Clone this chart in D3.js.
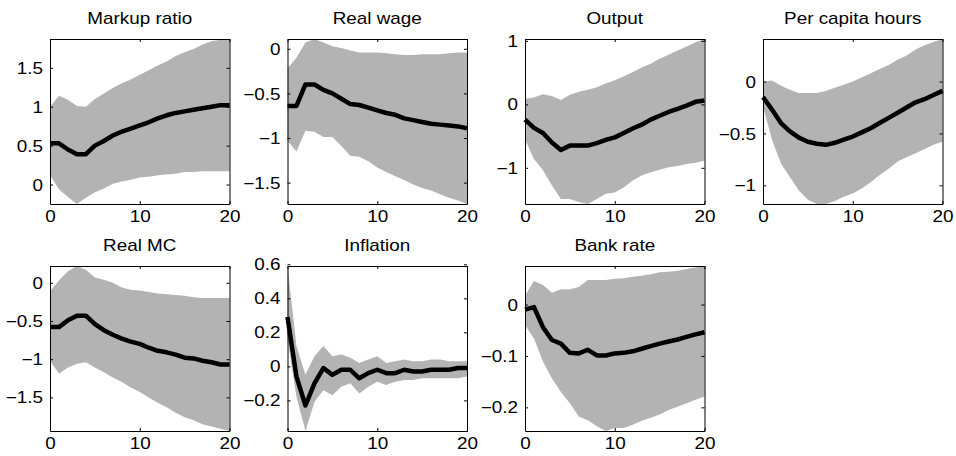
<!DOCTYPE html>
<html>
<head>
<meta charset="utf-8">
<script src="https://cdn.jsdelivr.net/npm/d3@7"></script>
<style>
  html, body { margin: 0; padding: 0; background: #fff; }
  svg { display: block; }
</style>
</head>
<body>
<div id="chart"></div>
<script>
// ── Data: impulse responses, median with error band, horizon 0..20 ──
const HORIZON = d3.range(0, 21);
const X_TICKS = [0, 10, 20];

const MARKUP_MEAN = [0.53, 0.53, 0.45, 0.39, 0.39, 0.50, 0.56, 0.63, 0.68, 0.72, 0.76, 0.80, 0.85, 0.89, 0.92, 0.94, 0.96, 0.98, 1.00, 1.02, 1.02];
const MARKUP_HI   = [1.00, 1.14, 1.09, 1.01, 1.00, 1.10, 1.17, 1.24, 1.30, 1.35, 1.41, 1.47, 1.53, 1.58, 1.65, 1.70, 1.74, 1.80, 1.84, 1.86, 1.87];
const MARKUP_LO   = [0.12, -0.06, -0.16, -0.25, -0.17, -0.10, -0.05, 0.01, 0.04, 0.06, 0.09, 0.10, 0.12, 0.13, 0.14, 0.16, 0.16, 0.17, 0.17, 0.17, 0.17];
const MARKUP_TICKS = [0, 0.5, 1, 1.5];

const WAGE_MEAN = [-0.64, -0.64, -0.40, -0.40, -0.46, -0.50, -0.56, -0.62, -0.63, -0.66, -0.69, -0.72, -0.74, -0.78, -0.80, -0.82, -0.84, -0.85, -0.86, -0.87, -0.89];
const WAGE_HI   = [-0.22, -0.10, 0.07, 0.11, 0.07, 0.03, 0.01, -0.02, -0.04, -0.04, -0.04, -0.05, -0.06, -0.07, -0.07, -0.06, -0.06, -0.06, -0.05, -0.04, -0.04];
const WAGE_LO   = [-1.03, -1.15, -0.92, -0.93, -0.99, -0.99, -1.09, -1.20, -1.21, -1.26, -1.33, -1.38, -1.43, -1.47, -1.52, -1.56, -1.59, -1.63, -1.67, -1.70, -1.74];
const WAGE_TICKS = [-1.5, -1, -0.5, 0];

const OUTPUT_MEAN = [-0.24, -0.37, -0.45, -0.60, -0.72, -0.65, -0.65, -0.65, -0.61, -0.56, -0.52, -0.45, -0.38, -0.32, -0.24, -0.18, -0.12, -0.07, -0.02, 0.04, 0.06];
const OUTPUT_HI   = [0.09, 0.11, 0.16, 0.13, 0.07, 0.15, 0.20, 0.23, 0.27, 0.33, 0.38, 0.44, 0.51, 0.58, 0.64, 0.72, 0.78, 0.85, 0.91, 0.98, 1.03];
const OUTPUT_LO   = [-0.55, -0.86, -1.04, -1.28, -1.49, -1.49, -1.54, -1.57, -1.49, -1.41, -1.39, -1.31, -1.20, -1.12, -1.07, -1.03, -0.99, -0.97, -0.94, -0.92, -0.89];
const OUTPUT_TICKS = [-1, 0, 1];

const HOURS_MEAN = [-0.15, -0.27, -0.40, -0.48, -0.54, -0.58, -0.60, -0.61, -0.59, -0.56, -0.53, -0.49, -0.45, -0.40, -0.35, -0.30, -0.25, -0.20, -0.17, -0.13, -0.09];
const HOURS_HI   = [0.00, 0.01, -0.04, -0.08, -0.11, -0.11, -0.11, -0.09, -0.06, -0.03, 0.00, 0.04, 0.08, 0.12, 0.16, 0.21, 0.25, 0.31, 0.35, 0.38, 0.41];
const HOURS_LO   = [-0.24, -0.56, -0.79, -0.92, -1.05, -1.14, -1.18, -1.18, -1.15, -1.11, -1.08, -1.03, -0.97, -0.90, -0.84, -0.77, -0.73, -0.69, -0.65, -0.61, -0.58];
const HOURS_TICKS = [-1, -0.5, 0];

const MC_MEAN = [-0.58, -0.58, -0.49, -0.43, -0.43, -0.54, -0.62, -0.68, -0.73, -0.77, -0.80, -0.85, -0.89, -0.91, -0.94, -0.98, -0.99, -1.02, -1.04, -1.07, -1.07];
const MC_HI   = [-0.11, 0.03, 0.15, 0.22, 0.17, 0.07, 0.04, 0.00, -0.06, -0.09, -0.10, -0.12, -0.14, -0.15, -0.16, -0.17, -0.19, -0.20, -0.20, -0.20, -0.20];
const MC_LO   = [-1.02, -1.19, -1.11, -1.06, -1.04, -1.11, -1.17, -1.24, -1.30, -1.37, -1.43, -1.50, -1.57, -1.63, -1.70, -1.76, -1.80, -1.85, -1.88, -1.91, -1.94];
const MC_TICKS = [-1.5, -1, -0.5, 0];

const INFL_MEAN = [0.29, -0.06, -0.23, -0.10, -0.01, -0.05, -0.02, -0.02, -0.07, -0.04, -0.02, -0.04, -0.04, -0.02, -0.03, -0.03, -0.02, -0.02, -0.02, -0.01, -0.01];
const INFL_HI   = [0.59, 0.12, -0.05, 0.06, 0.12, 0.06, 0.07, 0.05, 0.02, 0.04, 0.06, 0.02, 0.03, 0.04, 0.03, 0.03, 0.04, 0.04, 0.03, 0.03, 0.03];
const INFL_LO   = [0.16, -0.18, -0.38, -0.21, -0.14, -0.17, -0.12, -0.10, -0.16, -0.12, -0.09, -0.11, -0.09, -0.08, -0.08, -0.07, -0.07, -0.07, -0.07, -0.07, -0.06];
const INFL_TICKS = [-0.2, 0, 0.2, 0.4, 0.6];

const RATE_MEAN = [-0.010, -0.005, -0.044, -0.069, -0.076, -0.094, -0.095, -0.088, -0.099, -0.099, -0.095, -0.094, -0.091, -0.086, -0.081, -0.076, -0.072, -0.068, -0.063, -0.058, -0.054];
const RATE_HI   = [0.017, 0.046, 0.038, 0.023, 0.030, 0.030, 0.034, 0.048, 0.048, 0.048, 0.050, 0.051, 0.054, 0.056, 0.059, 0.063, 0.064, 0.066, 0.069, 0.072, 0.075];
const RATE_LO   = [-0.040, -0.066, -0.111, -0.144, -0.170, -0.192, -0.218, -0.225, -0.237, -0.246, -0.240, -0.240, -0.234, -0.226, -0.220, -0.214, -0.205, -0.199, -0.192, -0.185, -0.179];
const RATE_TICKS = [-0.2, -0.1, 0];

const TITLES = ['Markup ratio', 'Real wage', 'Output', 'Per capita hours', 'Real MC', 'Inflation', 'Bank rate'];

const PANELS = [
  [MARKUP_MEAN, MARKUP_LO, MARKUP_HI, MARKUP_TICKS],
  [WAGE_MEAN, WAGE_LO, WAGE_HI, WAGE_TICKS],
  [OUTPUT_MEAN, OUTPUT_LO, OUTPUT_HI, OUTPUT_TICKS],
  [HOURS_MEAN, HOURS_LO, HOURS_HI, HOURS_TICKS],
  [MC_MEAN, MC_LO, MC_HI, MC_TICKS],
  [INFL_MEAN, INFL_LO, INFL_HI, INFL_TICKS],
  [RATE_MEAN, RATE_LO, RATE_HI, RATE_TICKS],
].map(([mean, lo, hi, ticks], i) => ({ title: TITLES[i], mean, lo, hi, ticks }));

// ── Layout (MATLAB-ish 2x4 subplot grid) ──────────────────────────
const W = 956, H = 456;
const COL_X = [50, 287.5, 525, 763];
const ROW_Y = [39, 266];
const PW = 179.5, PH = 165;
const FONT = "'Liberation Sans', Arial, Helvetica, sans-serif";
const FS = 16;
const STRETCH = 1.18; // text in the reference is a bit wide
const BAND = '#b3b3b3';

const svg = d3.select('#chart').append('svg')
  .attr('width', W).attr('height', H)
  .attr('viewBox', `0 0 ${W} ${H}`);

svg.append('rect').attr('width', W).attr('height', H).attr('fill', '#fff');

function stretchText(sel) {
  sel.each(function () {
    const t = d3.select(this);
    const x = +t.attr('x') || 0;
    const y = +t.attr('y') || 0;
    t.attr('x', 0).attr('y', 0)
      .attr('transform', `translate(${x},${y}) scale(${STRETCH},1)`);
  });
}

PANELS.forEach((p, i) => {
  const left = COL_X[i % 4];
  const top = ROW_Y[Math.floor(i / 4)];
  const g = svg.append('g').attr('transform', `translate(${left},${top})`);

  const x = d3.scaleLinear().domain([0, 20]).range([0, PW]);
  const y = d3.scaleLinear()
    .domain([d3.min(p.lo), d3.max(p.hi)])
    .range([PH, 0]);

  const area = d3.area()
    .x((d, k) => x(HORIZON[k]))
    .y0((d, k) => y(p.lo[k]))
    .y1((d, k) => y(p.hi[k]));

  const line = d3.line()
    .x((d, k) => x(HORIZON[k]))
    .y(d => y(d));

  g.append('path').datum(p.mean).attr('d', area).attr('fill', BAND);
  g.append('path').datum(p.mean).attr('d', line)
    .attr('fill', 'none').attr('stroke', '#000')
    .attr('stroke-width', 4.5).attr('stroke-linejoin', 'round');

  // axes: ticks point inward on all four sides, box closed
  const axB = g.append('g').attr('transform', `translate(0,${PH})`)
    .call(d3.axisBottom(x).tickValues(X_TICKS).tickSize(-3).tickSizeOuter(0).tickPadding(6));
  const axL = g.append('g')
    .call(d3.axisLeft(y).tickValues(p.ticks).tickSize(-3).tickSizeOuter(0).tickPadding(7)
      .tickFormat(d3.format('')));
  g.append('g')
    .call(d3.axisTop(x).tickValues(X_TICKS).tickSize(-3).tickSizeOuter(0).tickFormat(''));
  g.append('g').attr('transform', `translate(${PW},0)`)
    .call(d3.axisRight(y).tickValues(p.ticks).tickSize(-3).tickSizeOuter(0).tickFormat(''));

  g.selectAll('.domain, .tick line').attr('stroke', '#000').attr('stroke-width', 1);
  g.selectAll('.tick text')
    .attr('fill', '#000').attr('font-family', FONT).attr('font-size', FS);
  axB.selectAll('.tick text').attr('dy', null).attr('y', 18);
  axL.selectAll('.tick text').attr('dy', '0.35em');
  axB.selectAll('.tick text').call(stretchText);
  axL.selectAll('.tick text').each(function () {
    const t = d3.select(this);
    t.attr('transform', `translate(${t.attr('x')},0) scale(${STRETCH},1)`).attr('x', 0);
  });

  g.append('text')
    .attr('x', PW / 2).attr('y', -15.5)
    .attr('text-anchor', 'middle')
    .attr('font-family', FONT).attr('font-size', FS)
    .attr('fill', '#000')
    .text(p.title)
    .call(stretchText);
});
</script>
</body>
</html>
